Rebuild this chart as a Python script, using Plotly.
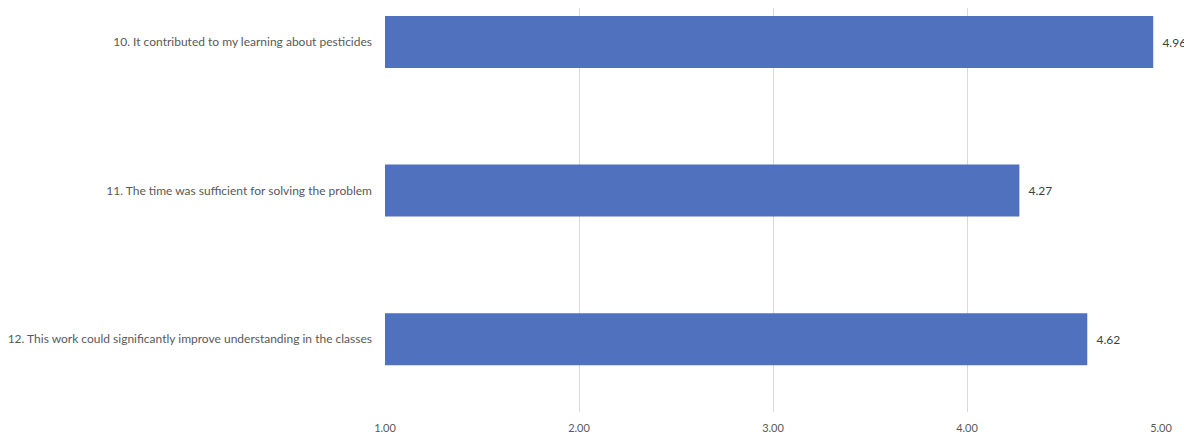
import plotly.graph_objects as go

questions = [
    "10. It contributed to my learning about pesticides",
    "11. The time was sufficient for solving the problem",
    "12. This work could significantly improve understanding in the classes",
]
scores = [4.96, 4.27, 4.62]
x_ticks = [1, 2, 3, 4, 5]

fig = go.Figure(go.Bar(
    x=scores,
    y=questions,
    orientation="h",
    marker=dict(color="#4F71BE", line=dict(width=0)),
    width=0.35,
    text=[f"  {v:.2f}" for v in scores],
    textposition="outside",
    textfont=dict(size=12, color="#404040", family="Lato"),
    cliponaxis=False,
))

# page body adds an 8px offset, so the figure is a bit smaller
fig.update_layout(
    width=1184, height=435,
    margin=dict(l=377, r=31, t=0, b=31, autoexpand=False),
    plot_bgcolor="white", paper_bgcolor="white",
    font=dict(family="Lato", size=12, color="#595959"),
    showlegend=False,
)
fig.update_xaxes(
    range=[1, 5], tickvals=x_ticks, tickformat=".2f", automargin=False,
    showgrid=True, gridcolor="#D9D9D9", gridwidth=1,
    zeroline=False, showline=False, ticks="", ticklabelstandoff=8,
    tickfont=dict(size=11),
)
fig.update_yaxes(
    range=[2.49, -0.229], showgrid=False, zeroline=False, automargin=False,
    showline=False, ticks="", ticklabelstandoff=12,
)

fig.write_html("out.html")
